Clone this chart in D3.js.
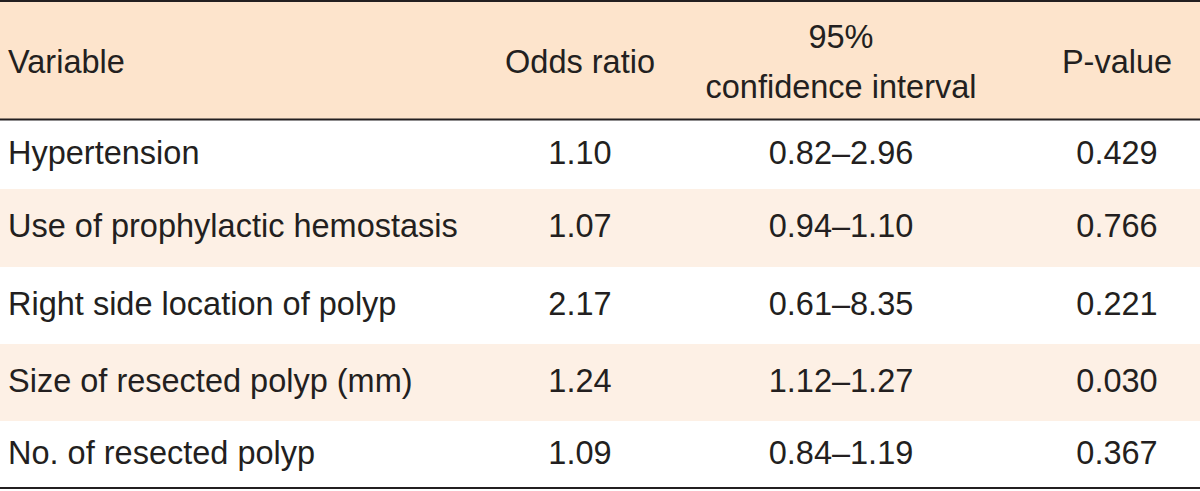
<!DOCTYPE html>
<html>
<head>
<meta charset="utf-8">
<script src="https://cdn.jsdelivr.net/npm/d3@7"></script>
<style>
  html, body { margin: 0; padding: 0; background: #ffffff; }
  svg { display: block; }
</style>
</head>
<body>
<svg id="chart" width="1200" height="491"></svg>
<script>
// ---- data ----
const headers = ["Variable", "Odds ratio", ["95%", "confidence interval"], "P-value"];
const variables = [
  "Hypertension",
  "Use of prophylactic hemostasis",
  "Right side location of polyp",
  "Size of resected polyp (mm)",
  "No. of resected polyp"
];
const oddsRatios = ["1.10", "1.07", "2.17", "1.24", "1.09"];
const confidenceIntervals = ["0.82–2.96", "0.94–1.10", "0.61–8.35", "1.12–1.27", "0.84–1.19"];
const pValues = ["0.429", "0.766", "0.221", "0.030", "0.367"];

// ---- layout ----
const W = 1200;
const fontFamily = "'Liberation Sans', Arial, sans-serif";
const fontSize = 32.5;
const textColor = "#231f20";
const headerBg = "#fde4cc";
const stripeBg = "#fdf0e5";
const lineColor = "#231f20";

const headerTop = 0, headerBottom = 119.5;
const rowEdges = [120, 189, 267, 344, 421, 488];

const svg = d3.select("#chart");

const rowScale = d3.scaleOrdinal().domain(d3.range(variables.length)).range(rowEdges.slice(0, -1));
const rowEnd = d3.scaleOrdinal().domain(d3.range(variables.length)).range(rowEdges.slice(1));

const colX = d3.scaleOrdinal().domain([0, 1, 2, 3]).range([8, 580, 841, 1117]);
const colAnchor = d => d === 0 ? "start" : "middle";

// header background
svg.append("rect").attr("x", 0).attr("y", headerTop).attr("width", W)
  .attr("height", headerBottom - headerTop).attr("fill", headerBg);

// striped rows
svg.selectAll("rect.row").data(d3.range(variables.length)).join("rect")
  .attr("class", "row")
  .attr("x", 0).attr("width", W)
  .attr("y", i => rowScale(i))
  .attr("height", i => rowEnd(i) - rowScale(i))
  .attr("fill", i => i % 2 === 1 ? stripeBg : "#ffffff");

// header text
const hdr = svg.append("g").attr("font-family", fontFamily).attr("font-size", fontSize).attr("fill", textColor);
headers.forEach((h, c) => {
  if (Array.isArray(h)) {
    h.forEach((line, k) => {
      hdr.append("text").attr("x", colX(c)).attr("y", 48 + k * 50)
        .attr("text-anchor", colAnchor(c)).text(line);
    });
  } else {
    hdr.append("text").attr("x", colX(c)).attr("y", 73)
      .attr("text-anchor", colAnchor(c)).text(h);
  }
});

// body text
const columns = [variables, oddsRatios, confidenceIntervals, pValues];
const body = svg.append("g").attr("font-family", fontFamily).attr("font-size", fontSize).attr("fill", textColor);
columns.forEach((col, c) => {
  body.selectAll("text.c" + c).data(col).join("text")
    .attr("class", "c" + c)
    .attr("x", colX(c))
    .attr("y", (d, i) => (rowScale(i) + rowEnd(i)) / 2 + 9)
    .attr("text-anchor", colAnchor(c))
    .text(d => d);
});

// rules
const rules = [1, headerBottom, rowEdges[rowEdges.length - 1]];
svg.selectAll("line.rule").data(rules).join("line")
  .attr("class", "rule")
  .attr("x1", 0).attr("x2", W)
  .attr("y1", d => d).attr("y2", d => d)
  .attr("stroke", lineColor).attr("stroke-width", 2);
</script>
</body>
</html>
